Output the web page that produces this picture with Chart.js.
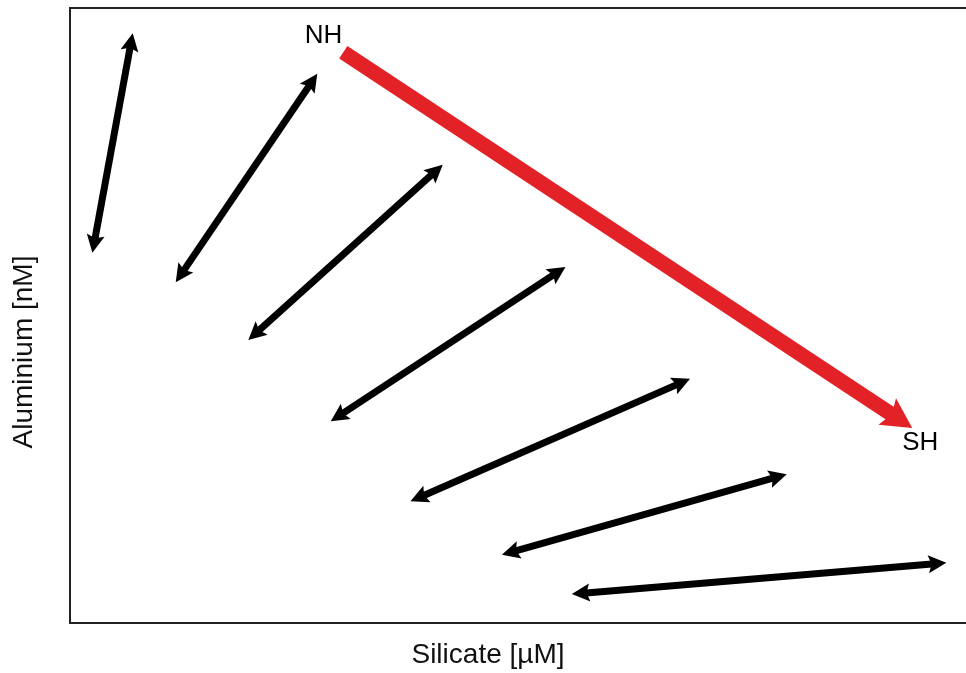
<!DOCTYPE html>
<html>
<head>
<meta charset="utf-8">
<title>Aluminium vs Silicate</title>
<script src="https://cdn.jsdelivr.net/npm/chart.js@4/dist/chart.umd.min.js"></script>
<style>
  html, body { margin: 0; padding: 0; background: #fff; overflow: hidden; }
  #wrap { width: 966px; height: 673px; position: relative; }
</style>
</head>
<body>
<div id="wrap"><canvas id="chart"></canvas></div>
<script>
// --- Data (axis units 0-100, schematic) ---
// black mixing arrows, start = lower-left tip, end = upper-right tip
const arrowStartX = [2.5, 11.8, 19.9, 29.1, 38.0, 48.2, 56.0];
const arrowStartY = [60.2, 55.4, 46.0, 32.8, 19.8, 11.1, 4.7];
const arrowEndX   = [7.0, 27.6, 41.6, 55.3, 69.2, 80.0, 97.8];
const arrowEndY   = [95.9, 89.3, 74.5, 57.9, 39.7, 24.2, 9.8];

// red transect NH -> SH
const transectX = [30.5, 94.0];
const transectY = [92.8, 31.7];

const stationNames = ['NH', 'SH'];
const stationX = [28.3, 94.9];
const stationY = [95.4, 29.3];

const X_TITLE = 'Silicate [µM]';
const Y_TITLE = 'Aluminium [nM]';

const FONT = "'Liberation Sans', Arial, sans-serif";

// --- datasets: one per arrow, drawn by the arrow plugin ---
const datasets = arrowStartX.map((x0, i) => ({
  data: [{ x: x0, y: arrowStartY[i] }, { x: arrowEndX[i], y: arrowEndY[i] }],
  borderColor: '#000',
  shaft: 7, headLen: 18, headHalf: 9, heads: 'both'
}));
datasets.push({
  data: [{ x: transectX[0], y: transectY[0] }, { x: transectX[1], y: transectY[1] }],
  borderColor: '#E32227',
  shaft: 15, headLen: 30, headHalf: 16, heads: 'end'
});
datasets.forEach(d => { d.showLine = false; d.pointRadius = 0; d.pointHoverRadius = 0; });

// arrowhead: tip at (tx,ty), pointing along (ux,uy)
function drawHead(ctx, tx, ty, ux, uy, len, half) {
  const px = -uy, py = ux;
  const bx = tx - ux * len, by = ty - uy * len;
  const nx = tx - ux * len * 0.82, ny = ty - uy * len * 0.82;
  ctx.beginPath();
  ctx.moveTo(tx, ty);
  ctx.lineTo(bx + px * half, by + py * half);
  ctx.lineTo(nx, ny);
  ctx.lineTo(bx - px * half, by - py * half);
  ctx.closePath();
  ctx.fill();
}

const arrowPlugin = {
  id: 'arrows',
  afterDatasetsDraw(chart) {
    const ctx = chart.ctx;
    ctx.save();
    chart.data.datasets.forEach((ds, i) => {
      const pts = chart.getDatasetMeta(i).data;
      const a = pts[0], b = pts[1];
      const dx = b.x - a.x, dy = b.y - a.y;
      const L = Math.hypot(dx, dy);
      const ux = dx / L, uy = dy / L;
      const cut = ds.headLen * 0.8;
      const sx = ds.heads === 'both' ? a.x + ux * cut : a.x;
      const sy = ds.heads === 'both' ? a.y + uy * cut : a.y;
      ctx.strokeStyle = ds.borderColor;
      ctx.fillStyle = ds.borderColor;
      ctx.lineWidth = ds.shaft;
      ctx.lineCap = 'butt';
      ctx.beginPath();
      ctx.moveTo(sx, sy);
      ctx.lineTo(b.x - ux * cut, b.y - uy * cut);
      ctx.stroke();
      drawHead(ctx, b.x, b.y, ux, uy, ds.headLen, ds.headHalf);
      if (ds.heads === 'both') drawHead(ctx, a.x, a.y, -ux, -uy, ds.headLen, ds.headHalf);
    });

    // station labels
    const xs = chart.scales.x, ys = chart.scales.y;
    ctx.fillStyle = '#000';
    ctx.font = '26px ' + FONT;
    ctx.textAlign = 'center';
    ctx.textBaseline = 'middle';
    stationNames.forEach((n, i) => {
      ctx.fillText(n, xs.getPixelForValue(stationX[i]), ys.getPixelForValue(stationY[i]));
    });
    ctx.restore();
  }
};

// axis titles, placed like the original figure (not centred on the frame)
const axisTitlePlugin = {
  id: 'axisTitles',
  afterDraw(chart) {
    const ctx = chart.ctx;
    ctx.save();
    ctx.fillStyle = '#111';
    ctx.font = '28px ' + FONT;
    ctx.textAlign = 'center';
    ctx.textBaseline = 'middle';
    ctx.fillText(X_TITLE, 488, 655);
    ctx.translate(24, 352);
    ctx.rotate(-Math.PI / 2);
    ctx.fillText(Y_TITLE, 0, 0);
    ctx.restore();
  }
};

const frameAxis = (pos, size) => ({
  type: 'linear', min: 0, max: 100, position: pos,
  grid: { display: false, drawTicks: false },
  ticks: { display: false },
  border: { display: true, color: '#222', width: 2 },
  afterFit: s => { if (pos === 'left') s.width = size; else s.height = size; }
});

new Chart(document.getElementById('chart'), {
  type: 'scatter',
  data: { datasets },
  options: {
    responsive: true,
    maintainAspectRatio: false,
    animation: false,
    events: [],
    layout: { padding: 0 },
    plugins: { legend: { display: false }, tooltip: { enabled: false } },
    scales: {
      x: frameAxis('bottom', 50),
      x2: frameAxis('top', 8),
      y: frameAxis('left', 70)
    }
  },
  plugins: [arrowPlugin, axisTitlePlugin]
});
</script>
</body>
</html>
